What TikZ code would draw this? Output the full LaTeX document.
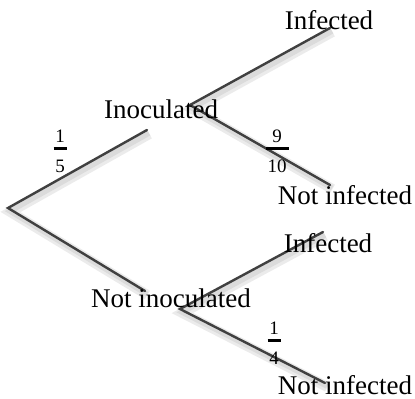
\documentclass[tikz,border=0pt]{standalone}
\usepackage{fontspec}
\setmainfont{Liberation Serif}

\begin{document}
\begin{tikzpicture}[x=0.5pt,y=-0.5pt,
    branch/.style={line width=1.2pt,black!75,line cap=round,
      preaction={draw=black!8,line width=5pt,
        transform canvas={shift={(1.2pt,-2pt)}}},
      preaction={draw=black!14,line width=2.6pt,
        transform canvas={shift={(1pt,-1.6pt)}}}},
    outcome/.style={inner sep=0pt,font=\fontsize{13.5}{16}\selectfont},
    prob/.style={inner sep=0pt,align=center,font=\fontsize{9.5}{12}\selectfont}]
  \useasboundingbox (0,0) rectangle (415,399);
  \coordinate (root) at (8,208);
  \coordinate (inocin) at (147,130);
  \coordinate (inocout) at (190,105);
  \coordinate (notinocin) at (145,291);
  \coordinate (notinocout) at (180,309);
  \coordinate (inf1end) at (330,28);
  \coordinate (notinf1end) at (330,185);
  \coordinate (inf2end) at (323,232);
  \coordinate (notinf2end) at (325,383);
  \draw[branch] (inocin) -- (root) -- (notinocin);
  \draw[branch] (inf1end) -- (inocout) -- (notinf1end);
  \draw[branch] (inf2end) -- (notinocout) -- (notinf2end);
  \node[outcome] (inoc) at (161,109) {Inoculated};
  \node[outcome] (notinoc) at (171,298) {Not inoculated};
  \node[outcome] (inf1) at (329,20) {Infected};
  \node[outcome] (notinf1) at (345,195) {Not infected};
  \node[outcome] (inf2) at (328,243) {Infected};
  \node[outcome] (notinf2) at (345,385) {Not infected};
  \node[prob] (p1) at (60,151) {1\\[-8pt]\rule{6.5pt}{1.5pt}\\[-1pt]5};
  \node[prob] (p2) at (277,151) {9\\[-8pt]\rule{11.5pt}{1.5pt}\\[-1pt]10};
  \node[prob] (p3) at (274,343) {1\\[-8pt]\rule{6.5pt}{1.5pt}\\[-1pt]4};
\end{tikzpicture}
\end{document}
